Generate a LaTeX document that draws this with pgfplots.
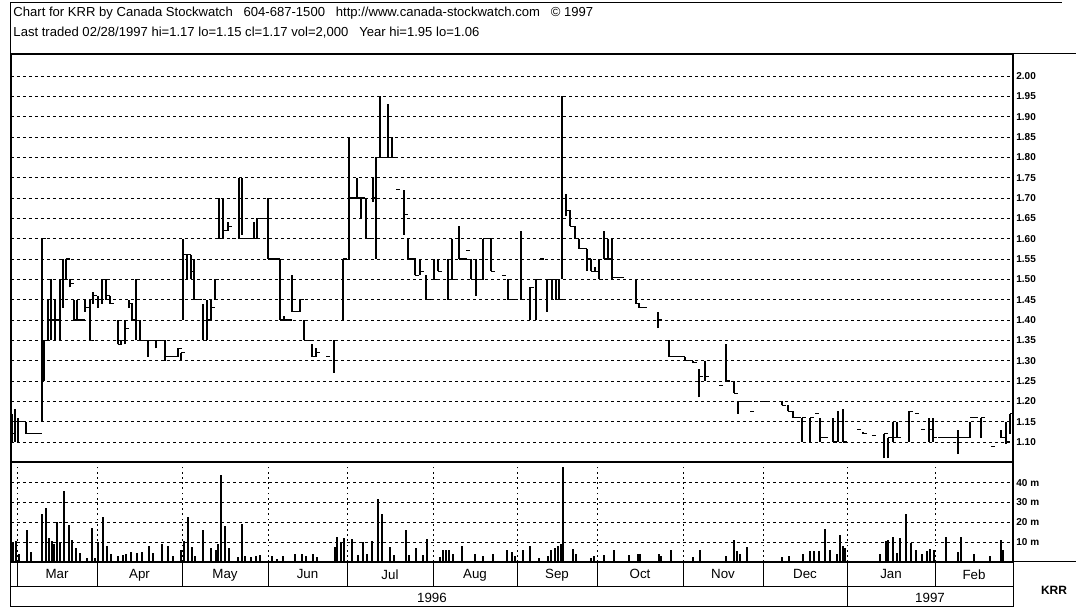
\documentclass[border=0pt]{standalone}
\usepackage{fontspec}
\setmainfont{Liberation Sans}
\usepackage{pgfplots}
\pgfplotsset{compat=1.18}
\usepackage{pgfplotstable}

\pgfplotstableread{
x hi lo c
12 1.17 1.10 1.12
15 1.18 1.10 1.15
18 1.16 1.10 1.15
22 1.15 1.15 1.15
26 1.15 1.12 1.12
30 1.12 1.12 1.12
34 1.12 1.12 1.12
38 1.12 1.12 1.12
42 1.60 1.15 1.60
44 1.35 1.25 1.35
48 1.45 1.35 1.40
51 1.50 1.35 1.40
55 1.45 1.35 1.40
60 1.50 1.35 1.45
63 1.55 1.43 1.50
66 1.55 1.50 1.55
70 1.50 1.48 1.49
74 1.45 1.40 1.40
77 1.45 1.40 1.40
81 1.40 1.40 1.40
85 1.45 1.42 1.43
90 1.45 1.35 1.35
93 1.47 1.44 1.46
98 1.46 1.43 1.45
102 1.50 1.44 1.50
106 1.50 1.45 1.46
110 1.46 1.44 1.44
118 1.40 1.34 1.34
121 1.35 1.34 1.35
125 1.40 1.34 1.38
129 1.45 1.43 1.44
132 1.44 1.40 1.40
136 1.50 1.35 1.50
140 1.40 1.35 1.35
144 1.35 1.35 1.35
148 1.35 1.31 1.35
152 1.35 1.35 1.35
156 1.35 1.33 1.35
160 1.35 1.35 1.35
165 1.35 1.30 1.31
169 1.31 1.31 1.31
173 1.31 1.31 1.31
178 1.33 1.31 1.33
181 1.32 1.30 1.32
183 1.60 1.40 1.56
187 1.56 1.50 1.56
191 1.56 1.50 1.52
194 1.55 1.45 1.45
198 1.45 1.45 1.45
203 1.44 1.35 1.35
207 1.45 1.35 1.40
211 1.45 1.40 1.43
215 1.50 1.45 1.50
219 1.70 1.60 1.60
223 1.70 1.60 1.62
228 1.64 1.62 1.63
232 1.60 1.60 1.60
239 1.75 1.60 1.60
242 1.75 1.61 1.60
246 1.60 1.60 1.60
250 1.60 1.60 1.60
254 1.64 1.60 1.60
257 1.65 1.60 1.65
261 1.65 1.65 1.65
264 1.65 1.65 1.65
268 1.70 1.55 1.55
272 1.55 1.55 1.55
276 1.55 1.55 1.55
280 1.55 1.40 1.40
284 1.41 1.40 1.40
288 1.40 1.40 1.40
292 1.51 1.42 1.42
296 1.42 1.42 1.42
300 1.45 1.42 1.45
304 1.40 1.35 1.35
308 1.35 1.35 1.35
312 1.34 1.31 1.31
316 1.33 1.31 1.32
326 1.31 1.31 1.31
334 1.35 1.27 1.30
343 1.55 1.40 1.55
349 1.85 1.55 1.70
353 1.70 1.70 1.70
357 1.75 1.70 1.70
361 1.70 1.65 1.70
366 1.70 1.60 1.60
370 1.60 1.60 1.60
373 1.75 1.69 1.70
376 1.80 1.55 1.80
380 1.95 1.80 1.80
384 1.80 1.80 1.80
388 1.93 1.80 1.80
392 1.85 1.80 1.80
396 1.72 1.72 1.72
404 1.72 1.61 1.66
408 1.60 1.55 1.55
412 1.55 1.55 1.55
415 1.55 1.51 1.51
420 1.55 1.51 1.52
426 1.51 1.45 1.45
430 1.45 1.45 1.45
434 1.55 1.50 1.50
438 1.55 1.52 1.52
448 1.55 1.45 1.50
452 1.60 1.50 1.50
459 1.63 1.55 1.55
463 1.55 1.55 1.55
466 1.57 1.57 1.57
471 1.55 1.50 1.50
476 1.55 1.46 1.50
480 1.50 1.50 1.50
483 1.60 1.50 1.60
487 1.60 1.60 1.60
491 1.60 1.52 1.52
502 1.51 1.51 1.51
508 1.50 1.45 1.45
512 1.45 1.45 1.45
521 1.62 1.45 1.45
530 1.48 1.40 1.48
536 1.50 1.40 1.50
540 1.55 1.55 1.55
547 1.50 1.42 1.50
552 1.50 1.45 1.50
556 1.50 1.45 1.45
559 1.50 1.45 1.45
562 1.95 1.50 1.90
566 1.71 1.655 1.67
570 1.67 1.63 1.63
575 1.63 1.60 1.60
579 1.60 1.575 1.575
583 1.575 1.575 1.575
587 1.575 1.52 1.55
591 1.55 1.52 1.52
595 1.53 1.52 1.52
599 1.55 1.50 1.50
604 1.62 1.55 1.55
608 1.60 1.55 1.55
612 1.60 1.50 1.505
616 1.505 1.505 1.505
620 1.505 1.505 1.505
636 1.50 1.44 1.44
639 1.44 1.43 1.43
643 1.43 1.43 1.43
658 1.42 1.38 1.40
669 1.35 1.31 1.31
673 1.31 1.31 1.31
677 1.31 1.31 1.31
681 1.31 1.31 1.31
685 1.31 1.30 1.30
689 1.30 1.30 1.30
693 1.30 1.295 1.295
699 1.28 1.21 1.26
705 1.30 1.25 1.26
719 1.24 1.24 1.24
726 1.34 1.25 1.25
734 1.25 1.22 1.22
738 1.20 1.17 1.20
742 1.20 1.20 1.20
746 1.20 1.20 1.20
750 1.175 1.175 1.175
754 1.20 1.20 1.20
760 1.20 1.20 1.20
764 1.20 1.20 1.20
782 1.20 1.19 1.19
788 1.19 1.175 1.175
793 1.175 1.16 1.16
797 1.16 1.16 1.16
802 1.16 1.10 1.16
810 1.16 1.10 1.16
815 1.17 1.17 1.17
820 1.16 1.10 1.11
824 1.11 1.11 1.11
833 1.16 1.10 1.10
838 1.175 1.10 1.15
843 1.18 1.10 1.10
857 1.13 1.13 1.13
863 1.125 1.12 1.12
872 1.115 1.115 1.115
884 1.12 1.06 1.12
888 1.11 1.06 1.11
893 1.15 1.10 1.11
897 1.15 1.11 1.11
909 1.175 1.10 1.175
915 1.17 1.17 1.17
921 1.13 1.13 1.13
929 1.16 1.10 1.13
933 1.16 1.10 1.11
938 1.11 1.11 1.11
942 1.11 1.11 1.11
946 1.11 1.11 1.11
950 1.11 1.11 1.11
954 1.11 1.11 1.11
958 1.13 1.07 1.11
962 1.11 1.11 1.11
966 1.11 1.11 1.11
970 1.15 1.11 1.16
974 1.16 1.16 1.16
981 1.16 1.11 1.16
991 1.09 1.09 1.09
1001 1.13 1.11 1.11
1006 1.15 1.095 1.10
1010 1.17 1.12 1.17
}\pricedata

\pgfplotstableread{
x v
13 10
16 10.8
19 4
27 16
31 5
42 24
46 27
49 12
52 10.5
54 9
57 20
60 10
64 36
69 18.5
72 11
76 7
80 4.7
87 2
92 17
95 2.2
98 10
103 22.7
107 8
111 4
118 3
123 3.3
126 3.8
131 5
137 4.7
142 5
149 8
153 4.7
162 9
168 8
173 3
181 6
184 10.5
188 22.7
192 7.7
195 3
203 16
211 7
216 6
218 9
221 43.8
225 18
229 7
238 2.7
242 19
245 3
251 2.7
256 3
260 3.3
272 3
277 1.7
283 3
295 4.2
302 4
306 3
313 3.8
317 2.7
335 7.7
337 12.7
341 10
344 12
352 11.7
358 3.3
363 10
367 3.8
372 10.5
378 32
382 24
390 7.7
394 3.3
406 16
409 3.3
416 7
423 3.3
427 11.7
440 2.7
443 6
446 6.3
449 6.3
453 3.8
462 8.3
475 3.8
483 3
493 3.8
507 6
512 5
515 3
523 6.3
530 8.3
539 2.2
548 3
551 6.3
555 7
558 8.3
561 9
563 48
573 6.7
576 3.8
591 2.2
594 3
604 3.3
614 6.3
629 3.3
638 3.8
640 4.2
659 4.2
661 3
671 6
693 2.7
700 6.3
726 3
734 11.3
737 5.5
740 3.8
747 7.5
782 2.5
789 3
803 3.8
810 5.5
814 5.8
819 5.5
825 16.7
830 6
837 4.2
840 13.8
843 8
845 7
880 3.8
886 10.5
888 11.3
893 12.7
897 4.7
900 12
906 24
911 9.7
916 6.3
922 3.8
927 5.5
930 6.7
934 6.3
946 12.7
958 5
961 12.7
974 4.2
990 3
1001 11.3
1003 6
}\voldata

\begin{document}
\begin{tikzpicture}
\path[use as bounding box] (0pt,0pt) rectangle (807pt,-456.75pt);

\begin{scope}[x=0.75pt,y=-0.75pt,line width=0.75pt]
  \draw (10,3) -- (1062,3);
  \draw (10,3) -- (10,607);
  \draw (1013,54) -- (1076,54);
  \node[anchor=west,inner sep=0pt,font=\fontsize{9.8}{11}\selectfont] at (13,13)
    {Chart for KRR by Canada Stockwatch\ \ \ 604-687-1500\ \ \ http://www.canada-stockwatch.com\ \ \ \textcopyright\ 1997};
  \node[anchor=west,inner sep=0pt,font=\fontsize{9.8}{11}\selectfont] at (13,33)
    {Last traded 02/28/1997 hi=1.17 lo=1.15 cl=1.17 vol=2,000\ \ \ Year hi=1.95 lo=1.06};
  % month row and year row
  \draw (1013,562) -- (1076,562);
  \draw (11,587) -- (1013,587);
  \draw (11,607) -- (1013,607);
  \foreach \xx in {17,97,182,268,347,433,517,597,683,763,847,935,1013}
    \draw (\xx,562) -- (\xx,587);
  \draw (847,587) -- (847,607);
  \draw (1013,587) -- (1013,607);
  \node[font=\fontsize{10}{11}\selectfont] at (432,598) {1996};
  \node[font=\fontsize{10}{11}\selectfont] at (930,598) {1997};
  \node[font=\bfseries\fontsize{9}{10}\selectfont] at (1054,590) {KRR};
\end{scope}

% price panel
\begin{axis}[
  at={(8.25pt,-40.5pt)}, anchor=north west, scale only axis,
  width=751.5pt, height=306pt,
  xmin=11, xmax=1013, ymin=1.0508, ymax=2.0541,
  xtick=\empty,
  minor xtick={17,97,182,268,347,433,517,597,683,763,847,935},
  xminorgrids,
  ytick={1.10,1.15,1.20,1.25,1.30,1.35,1.40,1.45,1.50,1.55,1.60,1.65,1.70,1.75,1.80,1.85,1.90,1.95,2.00},
  yticklabels={1.10,1.15,1.20,1.25,1.30,1.35,1.40,1.45,1.50,1.55,1.60,1.65,1.70,1.75,1.80,1.85,1.90,1.95,2.00},
  yticklabel pos=right,
  ymajorgrids,
  major tick length=0pt, minor tick length=0pt,
  yticklabel style={font=\bfseries\fontsize{7.5}{8}\selectfont, xshift=-1pt},
  major grid style={black, line width=0.6pt, dash pattern=on 2.4pt off 2.1pt},
  minor grid style={black, line width=0.6pt, dash pattern=on 1.3pt off 2.6pt},
  axis line style={line width=1pt},
]
\addplot[draw=none, mark=none,
  error bars/.cd, y dir=plus, y explicit, error mark=none,
  error bar style={draw=black, solid, line width=0.8pt}]
  table[x=x, y=lo, y error plus expr=\thisrow{hi}-\thisrow{lo}] {\pricedata};
\addplot[draw=none, mark=none,
  error bars/.cd, x dir=plus, x fixed=4, error mark=none,
  error bar style={draw=black, solid, line width=0.8pt}]
  table[x=x, y=c] {\pricedata};
\end{axis}

% volume panel
\begin{axis}[
  at={(8.25pt,-346.5pt)}, anchor=north west, scale only axis,
  width=751.5pt, height=75pt,
  xmin=11, xmax=1013, ymin=0, ymax=50.44,
  xtick={57,139.5,225,307.5,390,475,557,640,723,805,891,974},
  xticklabels={Mar,Apr,May,Jun,Jul,Aug,Sep,Oct,Nov,Dec,Jan,Feb},
  xticklabel style={font=\fontsize{10}{11}\selectfont, yshift=-2pt},
  minor xtick={17,97,182,268,347,433,517,597,683,763,847,935},
  xminorgrids,
  ytick={10,20,30,40},
  yticklabels={10 m,20 m,30 m,40 m},
  yticklabel pos=right,
  ymajorgrids,
  major tick length=0pt, minor tick length=0pt,
  yticklabel style={font=\bfseries\fontsize{7.5}{8}\selectfont, xshift=-1pt},
  major grid style={black, line width=0.6pt, dash pattern=on 2.4pt off 2.1pt},
  minor grid style={black, line width=0.6pt, dash pattern=on 1.3pt off 2.6pt},
  axis line style={line width=1pt},
]
\addplot[ycomb, black, line width=0.8pt, mark=none] table[x=x, y=v] {\voldata};
\end{axis}
\end{tikzpicture}
\end{document}
